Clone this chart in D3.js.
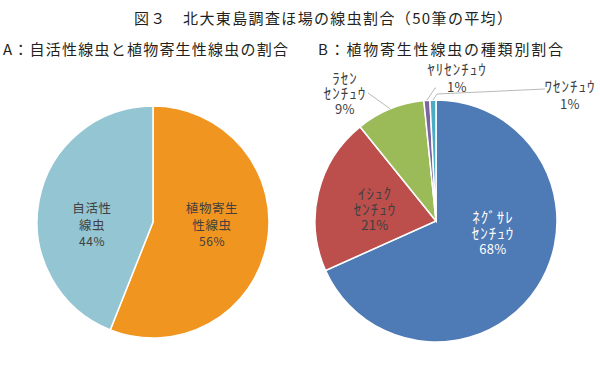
<!DOCTYPE html>
<html>
<head>
<meta charset="utf-8">
<script src="https://cdn.jsdelivr.net/npm/d3@7/dist/d3.min.js"></script>
<style>
  html, body { margin: 0; padding: 0; background: #fff; }
  svg { display: block; font-family: "Noto Sans CJK JP", "Noto Sans", sans-serif; }
</style>
</head>
<body>
<svg id="chart" width="600" height="372"></svg>
<script>
// ---- data ----
const titleText = "図３　北大東島調査ほ場の線虫割合（50筆の平均）";
const subtitleA = "A：自活性線虫と植物寄生性線虫の割合";
const subtitleB = "B：植物寄生性線虫の種類別割合";

const categoriesA = ["植物寄生性線虫", "自活性線虫"];
const labelLinesA = [["植物寄生", "性線虫"], ["自活性", "線虫"]];
const valuesA = [56, 44];
const percentLabelsA = ["56%", "44%"];

const categoriesB = ["ネグサレセンチュウ", "イシュクセンチュウ", "ラセンセンチュウ", "ヤリセンチュウ", "ワセンチュウ"];
const labelLinesB = [["ﾈｸﾞｻﾚ", "ｾﾝﾁｭｳ"], ["ｲｼｭｸ", "ｾﾝﾁｭｳ"], ["ﾗｾﾝ", "ｾﾝﾁｭｳ"], ["ﾔﾘｾﾝﾁｭｳ"], ["ﾜｾﾝﾁｭｳ"]];
const valuesB = [68.3, 20.9, 9.2, 0.8, 0.8];
const percentLabelsB = ["68%", "21%", "9%", "1%", "1%"];

const colorsA = ["#F0951F", "#93C5D3"];
const colorsB = ["#4E7AB5", "#BC4E4B", "#9BBB59", "#7D63A0", "#4BACC6"];

// ---- layout ----
const svg = d3.select("#chart");
const textColor = "#231F20";
const labelColor = "#404040";

svg.append("text").attr("x", 134).attr("y", 17).attr("dominant-baseline", "central")
  .attr("font-size", 15).attr("fill", textColor)
  .attr("textLength", 378).attr("lengthAdjust", "spacing").text(titleText);
svg.append("text").attr("x", 3).attr("y", 48).attr("dominant-baseline", "central")
  .attr("font-size", 15).attr("fill", textColor)
  .attr("textLength", 285).attr("lengthAdjust", "spacing").text(subtitleA);
svg.append("text").attr("x", 318).attr("y", 48).attr("dominant-baseline", "central")
  .attr("font-size", 15).attr("fill", textColor)
  .attr("textLength", 245).attr("lengthAdjust", "spacing").text(subtitleB);

const pie = d3.pie().sort(null).value(d => d);

// Pie A
const cA = {x: 153, y: 222, r: 116};
const arcA = d3.arc().innerRadius(0).outerRadius(cA.r);
const gA = svg.append("g").attr("transform", `translate(${cA.x},${cA.y})`);
const arcsA = pie(valuesA);
gA.selectAll("path").data(arcsA).join("path")
  .attr("d", arcA).attr("fill", (d, i) => colorsA[i])
  .attr("stroke", "#fff").attr("stroke-width", 1.5);

const labelPosA = [[59, 2], [-61, 2]];
arcsA.forEach((a, i) => {
  const t = gA.append("text").attr("text-anchor", "middle").attr("fill", labelColor)
    .attr("transform", `translate(${labelPosA[i][0]},${labelPosA[i][1]})`);
  const lines = labelLinesA[i].concat([percentLabelsA[i]]);
  lines.forEach((ln, j) => {
    t.append("tspan").attr("x", 0).attr("y", (j - 1) * 16.5)
      .attr("dominant-baseline", "central")
      .attr("font-size", j === lines.length - 1 ? 12 : 12.5)
      .attr("letter-spacing", j === lines.length - 1 ? 0.5 : 0.6)
      .text(ln);
  });
});

// Pie B
const cB = {x: 436, y: 221, r: 121};
const arcB = d3.arc().innerRadius(0).outerRadius(cB.r);
const gB = svg.append("g").attr("transform", `translate(${cB.x},${cB.y})`);
const arcsB = pie(valuesB);
gB.selectAll("path").data(arcsB).join("path")
  .attr("d", arcB).attr("fill", (d, i) => colorsB[i])
  .attr("stroke", "#fff").attr("stroke-width", 1.5);

// label anchor positions (relative to centre): [x of block centre, y of first line]
const labelPosB = [[57, -5], [-61, -29], [-91, -144], [21, -153], [134, -136]];
const labelFill = ["#fff", labelColor, labelColor, labelColor, labelColor];
const lineGap = [16, 16, 15.5, 18.5, 18];
arcsB.forEach((a, i) => {
  const t = gB.append("text").attr("text-anchor", "middle").attr("fill", labelFill[i])
    .attr("transform", `translate(${labelPosB[i][0]},${labelPosB[i][1]})`);
  const lines = labelLinesB[i].concat([percentLabelsB[i]]);
  lines.forEach((ln, j) => {
    const isPct = j === lines.length - 1;
    t.append("tspan").attr("x", 0).attr("y", j * lineGap[i])
      .attr("dominant-baseline", "central")
      .attr("font-size", isPct ? 13 : 15)
      .attr("letter-spacing", isPct ? 0.3 : 1)
      .text(ln);
  });
});

// leader lines for outside labels (from slice edge to label)
const outer = d3.arc().innerRadius(cB.r).outerRadius(cB.r);
const leaderEnds = {
  2: [[-47, -113], [-68, -128]],
  3: [[-1, -133], [0, -133]],
  4: [[1, -127], [109, -132]]
};
Object.keys(leaderEnds).forEach(k => {
  const i = +k;
  const p0 = outer.centroid(arcsB[i]);
  const pts = [p0].concat(leaderEnds[k]);
  gB.append("path").attr("d", d3.line()(pts))
    .attr("fill", "none").attr("stroke", "#A6A6A6").attr("stroke-width", 0.8);
});
</script>
</body>
</html>
